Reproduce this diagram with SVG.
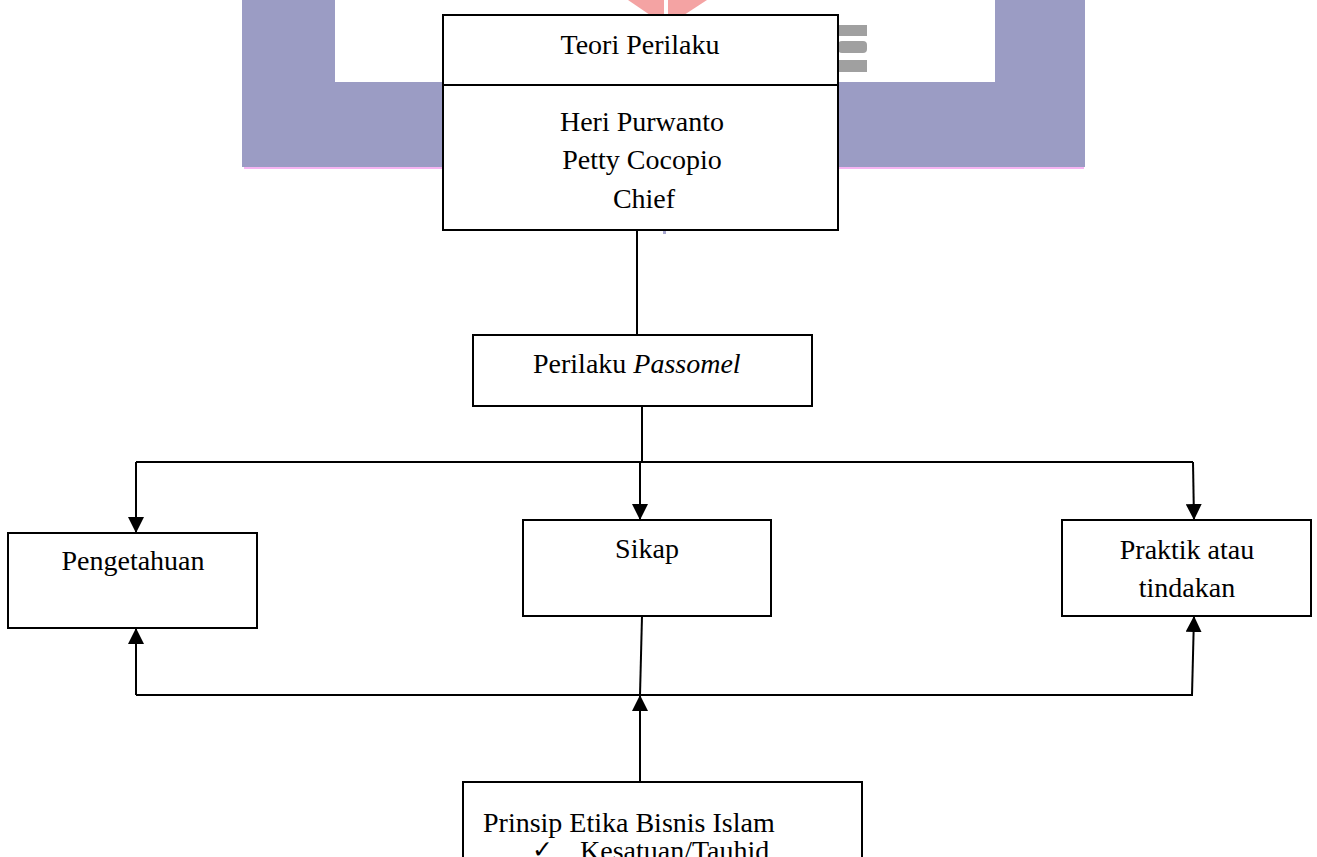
<svg xmlns="http://www.w3.org/2000/svg" width="1317" height="857" viewBox="0 0 1317 857">
<style>
.box{fill:#fff;stroke:#000;stroke-width:2}
.t{font-family:"Liberation Serif","Times New Roman",serif;font-size:28px;fill:#000}
.c{text-anchor:middle}
.ln{stroke:#000;stroke-width:2;fill:none}
</style>
<defs>
<marker id="ah" markerUnits="userSpaceOnUse" markerWidth="16" markerHeight="16" viewBox="0 0 16 16" refX="16" refY="8" orient="auto">
<path d="M0,0 L16,8 L0,16 Z" fill="#000"/>
</marker>
</defs>
<rect width="1317" height="857" fill="#fff"/>
<g id="watermark">
<path d="M242,0 H1085 V167 H242 Z M335,0 V82 H995 V0 Z" fill="#9b9cc4" fill-rule="evenodd"/>
<rect x="244" y="167" width="840" height="2" fill="#f6b4f2"/>
<path d="M628,0 H707 L684,15 H650 Z" fill="#f4a3a3"/>
<rect x="664" y="0" width="4" height="16" fill="#fff"/>
<rect x="838" y="25" width="29" height="11" fill="#a0a0a0"/>
<rect x="838" y="41" width="29" height="12" rx="4" fill="#a0a0a0"/>
<rect x="838" y="60" width="29" height="12" fill="#a0a0a0"/>
<rect x="663" y="231" width="3" height="3" fill="#a8a8d0"/>
</g>
<g id="connectors">
<line class="ln" x1="637" y1="230" x2="637" y2="335"/>
<line class="ln" x1="642" y1="406" x2="642" y2="462"/>
<line class="ln" x1="136" y1="462" x2="1193" y2="462"/>
<line class="ln" x1="136" y1="462" x2="136" y2="533" marker-end="url(#ah)"/>
<line class="ln" x1="640" y1="462" x2="640" y2="520" marker-end="url(#ah)"/>
<line class="ln" x1="1193" y1="462" x2="1194" y2="520" marker-end="url(#ah)"/>
<line class="ln" x1="642" y1="616" x2="640" y2="695"/>
<line class="ln" x1="136" y1="695" x2="1193" y2="695"/>
<line class="ln" x1="136" y1="695" x2="136" y2="628" marker-end="url(#ah)"/>
<line class="ln" x1="1192" y1="695" x2="1194" y2="616" marker-end="url(#ah)"/>
<line class="ln" x1="640" y1="782" x2="640" y2="695" marker-end="url(#ah)"/>
</g>
<g id="teori">
<rect class="box" x="443" y="15" width="395" height="215"/>
<line class="ln" x1="443" y1="85" x2="838" y2="85"/>
<text class="t c" x="640" y="54">Teori Perilaku</text>
<text class="t c" x="642" y="131">Heri Purwanto</text>
<text class="t c" x="642" y="169">Petty Cocopio</text>
<text class="t c" x="644" y="208">Chief</text>
</g>
<g id="passomel">
<rect class="box" x="473" y="335" width="339" height="71"/>
<text class="t" x="533" y="373">Perilaku <tspan font-style="italic">Passomel</tspan></text>
</g>
<g id="pengetahuan">
<rect class="box" x="8" y="533" width="249" height="95"/>
<text class="t c" x="133" y="570">Pengetahuan</text>
</g>
<g id="sikap">
<rect class="box" x="523" y="520" width="248" height="96"/>
<text class="t c" x="647" y="558">Sikap</text>
</g>
<g id="praktik">
<rect class="box" x="1062" y="520" width="249" height="96"/>
<text class="t c" x="1187" y="559">Praktik atau</text>
<text class="t c" x="1187" y="597">tindakan</text>
</g>
<g id="prinsip">
<rect class="box" x="463" y="782" width="399" height="100"/>
<text class="t" x="483" y="832">Prinsip Etika Bisnis Islam</text>
<text x="532" y="858" font-family="DejaVu Sans,sans-serif" font-size="25">✓</text>
<text class="t" x="580" y="860">Kesatuan/Tauhid</text>
</g>
</svg>
